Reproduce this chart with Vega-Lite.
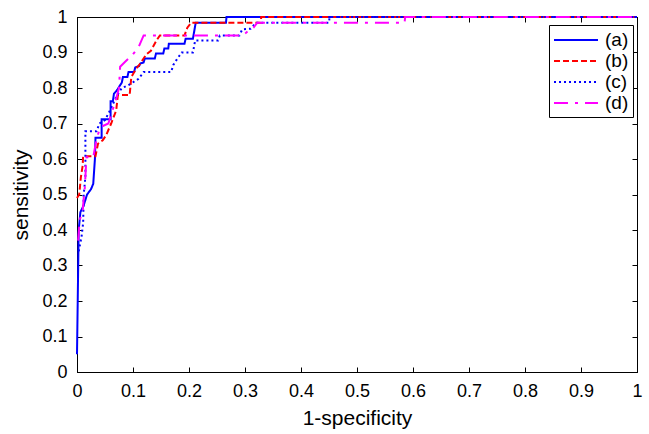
{
  "$schema": "https://vega.github.io/schema/vega-lite/v6.json",
  "width": 560,
  "height": 355,
  "autosize": {"type": "none"},
  "padding": {"left": 77, "top": 17, "right": 12, "bottom": 62},
  "background": "white",
  "config": {
    "font": "Liberation Sans",
    "view": {"stroke": "black", "strokeWidth": 1},
    "axis": {
      "grid": false,
      "domainColor": "black",
      "tickColor": "black",
      "labelColor": "black",
      "titleColor": "black",
      "labelFont": "Liberation Sans",
      "titleFont": "Liberation Sans",
      "labelFontSize": 18,
      "titleFontSize": 21,
      "titleFontWeight": "normal",
      "tickSize": -5,
      "labelPadding": 15,
      "labelFlush": false,
      "labelOverlap": false
    },
    "legend": {
      "orient": "none",
      "legendX": 472,
      "legendY": 8,
      "strokeColor": "black",
      "fillColor": "white",
      "padding": 4,
      "symbolType": "M-1,0H3.4",
      "symbolSize": 400,
      "symbolStrokeWidth": 2,
      "labelFont": "Liberation Sans",
      "labelFontSize": 19,
      "labelColor": "black",
      "labelOffset": 30,
      "rowPadding": 0
    }
  },
  "data": {
    "values": [
      {"s": "(a)", "x": 0, "y": 0.05},
      {"s": "(a)", "x": 0.003, "y": 0.40},
      {"s": "(a)", "x": 0.006, "y": 0.45},
      {"s": "(a)", "x": 0.012, "y": 0.47},
      {"s": "(a)", "x": 0.018, "y": 0.50},
      {"s": "(a)", "x": 0.025, "y": 0.515},
      {"s": "(a)", "x": 0.029, "y": 0.53},
      {"s": "(a)", "x": 0.032, "y": 0.60},
      {"s": "(a)", "x": 0.033, "y": 0.66},
      {"s": "(a)", "x": 0.044, "y": 0.66},
      {"s": "(a)", "x": 0.044, "y": 0.712},
      {"s": "(a)", "x": 0.060, "y": 0.712},
      {"s": "(a)", "x": 0.060, "y": 0.763},
      {"s": "(a)", "x": 0.064, "y": 0.763},
      {"s": "(a)", "x": 0.066, "y": 0.784},
      {"s": "(a)", "x": 0.072, "y": 0.795},
      {"s": "(a)", "x": 0.077, "y": 0.808},
      {"s": "(a)", "x": 0.080, "y": 0.815},
      {"s": "(a)", "x": 0.082, "y": 0.831},
      {"s": "(a)", "x": 0.090, "y": 0.831},
      {"s": "(a)", "x": 0.092, "y": 0.845},
      {"s": "(a)", "x": 0.102, "y": 0.845},
      {"s": "(a)", "x": 0.104, "y": 0.858},
      {"s": "(a)", "x": 0.111, "y": 0.862},
      {"s": "(a)", "x": 0.113, "y": 0.869},
      {"s": "(a)", "x": 0.119, "y": 0.872},
      {"s": "(a)", "x": 0.121, "y": 0.883},
      {"s": "(a)", "x": 0.139, "y": 0.883},
      {"s": "(a)", "x": 0.141, "y": 0.897},
      {"s": "(a)", "x": 0.154, "y": 0.897},
      {"s": "(a)", "x": 0.156, "y": 0.911},
      {"s": "(a)", "x": 0.163, "y": 0.911},
      {"s": "(a)", "x": 0.164, "y": 0.925},
      {"s": "(a)", "x": 0.192, "y": 0.925},
      {"s": "(a)", "x": 0.194, "y": 0.939},
      {"s": "(a)", "x": 0.207, "y": 0.939},
      {"s": "(a)", "x": 0.212, "y": 0.984},
      {"s": "(a)", "x": 0.266, "y": 0.984},
      {"s": "(a)", "x": 0.267, "y": 1},
      {"s": "(a)", "x": 1, "y": 1},

      {"s": "(b)", "x": 0, "y": 0.49},
      {"s": "(b)", "x": 0.004, "y": 0.50},
      {"s": "(b)", "x": 0.007, "y": 0.55},
      {"s": "(b)", "x": 0.010, "y": 0.58},
      {"s": "(b)", "x": 0.011, "y": 0.608},
      {"s": "(b)", "x": 0.033, "y": 0.608},
      {"s": "(b)", "x": 0.0375, "y": 0.643},
      {"s": "(b)", "x": 0.046, "y": 0.653},
      {"s": "(b)", "x": 0.052, "y": 0.667},
      {"s": "(b)", "x": 0.061, "y": 0.70},
      {"s": "(b)", "x": 0.070, "y": 0.737},
      {"s": "(b)", "x": 0.073, "y": 0.78},
      {"s": "(b)", "x": 0.094, "y": 0.78},
      {"s": "(b)", "x": 0.097, "y": 0.831},
      {"s": "(b)", "x": 0.106, "y": 0.855},
      {"s": "(b)", "x": 0.113, "y": 0.869},
      {"s": "(b)", "x": 0.124, "y": 0.895},
      {"s": "(b)", "x": 0.132, "y": 0.905},
      {"s": "(b)", "x": 0.142, "y": 0.934},
      {"s": "(b)", "x": 0.148, "y": 0.948},
      {"s": "(b)", "x": 0.192, "y": 0.948},
      {"s": "(b)", "x": 0.197, "y": 0.97},
      {"s": "(b)", "x": 0.204, "y": 0.984},
      {"s": "(b)", "x": 0.328, "y": 0.984},
      {"s": "(b)", "x": 0.329, "y": 1},
      {"s": "(b)", "x": 1, "y": 1},

      {"s": "(c)", "x": 0.003, "y": 0.34},
      {"s": "(c)", "x": 0.008, "y": 0.38},
      {"s": "(c)", "x": 0.011, "y": 0.42},
      {"s": "(c)", "x": 0.012, "y": 0.50},
      {"s": "(c)", "x": 0.015, "y": 0.55},
      {"s": "(c)", "x": 0.015, "y": 0.678},
      {"s": "(c)", "x": 0.035, "y": 0.678},
      {"s": "(c)", "x": 0.040, "y": 0.70},
      {"s": "(c)", "x": 0.050, "y": 0.71},
      {"s": "(c)", "x": 0.060, "y": 0.74},
      {"s": "(c)", "x": 0.070, "y": 0.775},
      {"s": "(c)", "x": 0.080, "y": 0.80},
      {"s": "(c)", "x": 0.092, "y": 0.808},
      {"s": "(c)", "x": 0.110, "y": 0.826},
      {"s": "(c)", "x": 0.119, "y": 0.845},
      {"s": "(c)", "x": 0.168, "y": 0.845},
      {"s": "(c)", "x": 0.172, "y": 0.865},
      {"s": "(c)", "x": 0.178, "y": 0.88},
      {"s": "(c)", "x": 0.187, "y": 0.90},
      {"s": "(c)", "x": 0.207, "y": 0.90},
      {"s": "(c)", "x": 0.211, "y": 0.934},
      {"s": "(c)", "x": 0.252, "y": 0.934},
      {"s": "(c)", "x": 0.255, "y": 0.948},
      {"s": "(c)", "x": 0.290, "y": 0.948},
      {"s": "(c)", "x": 0.295, "y": 0.965},
      {"s": "(c)", "x": 0.310, "y": 0.967},
      {"s": "(c)", "x": 0.320, "y": 0.984},
      {"s": "(c)", "x": 0.450, "y": 0.984},
      {"s": "(c)", "x": 0.451, "y": 1},
      {"s": "(c)", "x": 1, "y": 1},

      {"s": "(d)", "x": 0.002, "y": 0.37},
      {"s": "(d)", "x": 0.005, "y": 0.43},
      {"s": "(d)", "x": 0.010, "y": 0.45},
      {"s": "(d)", "x": 0.012, "y": 0.49},
      {"s": "(d)", "x": 0.014, "y": 0.52},
      {"s": "(d)", "x": 0.016, "y": 0.58},
      {"s": "(d)", "x": 0.017, "y": 0.605},
      {"s": "(d)", "x": 0.029, "y": 0.605},
      {"s": "(d)", "x": 0.033, "y": 0.64},
      {"s": "(d)", "x": 0.038, "y": 0.672},
      {"s": "(d)", "x": 0.042, "y": 0.69},
      {"s": "(d)", "x": 0.056, "y": 0.70},
      {"s": "(d)", "x": 0.062, "y": 0.73},
      {"s": "(d)", "x": 0.070, "y": 0.77},
      {"s": "(d)", "x": 0.075, "y": 0.80},
      {"s": "(d)", "x": 0.077, "y": 0.86},
      {"s": "(d)", "x": 0.086, "y": 0.874},
      {"s": "(d)", "x": 0.100, "y": 0.895},
      {"s": "(d)", "x": 0.110, "y": 0.915},
      {"s": "(d)", "x": 0.119, "y": 0.948},
      {"s": "(d)", "x": 0.296, "y": 0.948},
      {"s": "(d)", "x": 0.305, "y": 0.96},
      {"s": "(d)", "x": 0.315, "y": 0.97},
      {"s": "(d)", "x": 0.322, "y": 0.984},
      {"s": "(d)", "x": 0.585, "y": 0.984},
      {"s": "(d)", "x": 0.586, "y": 1},
      {"s": "(d)", "x": 1, "y": 1}
    ]
  },
  "layer": [
    {
      "mark": {"type": "line", "clip": false},
      "encoding": {
        "x": {
          "field": "x", "type": "quantitative",
          "scale": {"domain": [0, 1], "nice": false, "zero": false},
          "axis": {"orient": "bottom", "values": [0, 0.1, 0.2, 0.3, 0.4, 0.5, 0.6, 0.7, 0.8, 0.9, 1], "format": ".1~f", "title": "1-specificity", "titlePadding": 7}
        },
        "y": {
          "field": "y", "type": "quantitative",
          "scale": {"domain": [0, 1], "nice": false, "zero": false},
          "axis": {"orient": "left", "values": [0, 0.1, 0.2, 0.3, 0.4, 0.5, 0.6, 0.7, 0.8, 0.9, 1], "format": ".1~f", "title": "sensitivity", "titlePadding": 10}
        },
        "color": {
          "field": "s", "type": "nominal",
          "scale": {"domain": ["(a)", "(b)", "(c)", "(d)"], "range": ["#0000ff", "#ff0000", "#0000ff", "#ff00ff"]},
          "legend": {"title": null}
        },
        "strokeDash": {
          "field": "s", "type": "nominal",
          "scale": {"domain": ["(a)", "(b)", "(c)", "(d)"], "range": [[1, 0], [6, 3], [2, 3], [14, 7, 3, 7]]},
          "legend": {"title": null}
        },
        "strokeWidth": {
          "field": "s", "type": "nominal",
          "scale": {"domain": ["(a)", "(b)", "(c)", "(d)"], "range": [2, 2, 2, 1.3]},
          "legend": {"title": null}
        },
        "order": [{"field": "x", "type": "quantitative"}, {"field": "y", "type": "quantitative"}]
      }
    },
    {
      "mark": {"type": "line", "opacity": 0},
      "encoding": {
        "x": {"field": "x", "type": "quantitative", "axis": {"orient": "top", "values": [0, 0.1, 0.2, 0.3, 0.4, 0.5, 0.6, 0.7, 0.8, 0.9, 1], "labels": false, "title": null}},
        "y": {"field": "y", "type": "quantitative", "axis": {"orient": "right", "values": [0, 0.1, 0.2, 0.3, 0.4, 0.5, 0.6, 0.7, 0.8, 0.9, 1], "labels": false, "title": null}},
        "detail": {"field": "s", "type": "nominal"}
      }
    }
  ],
  "resolve": {"axis": {"x": "independent", "y": "independent"}}
}
